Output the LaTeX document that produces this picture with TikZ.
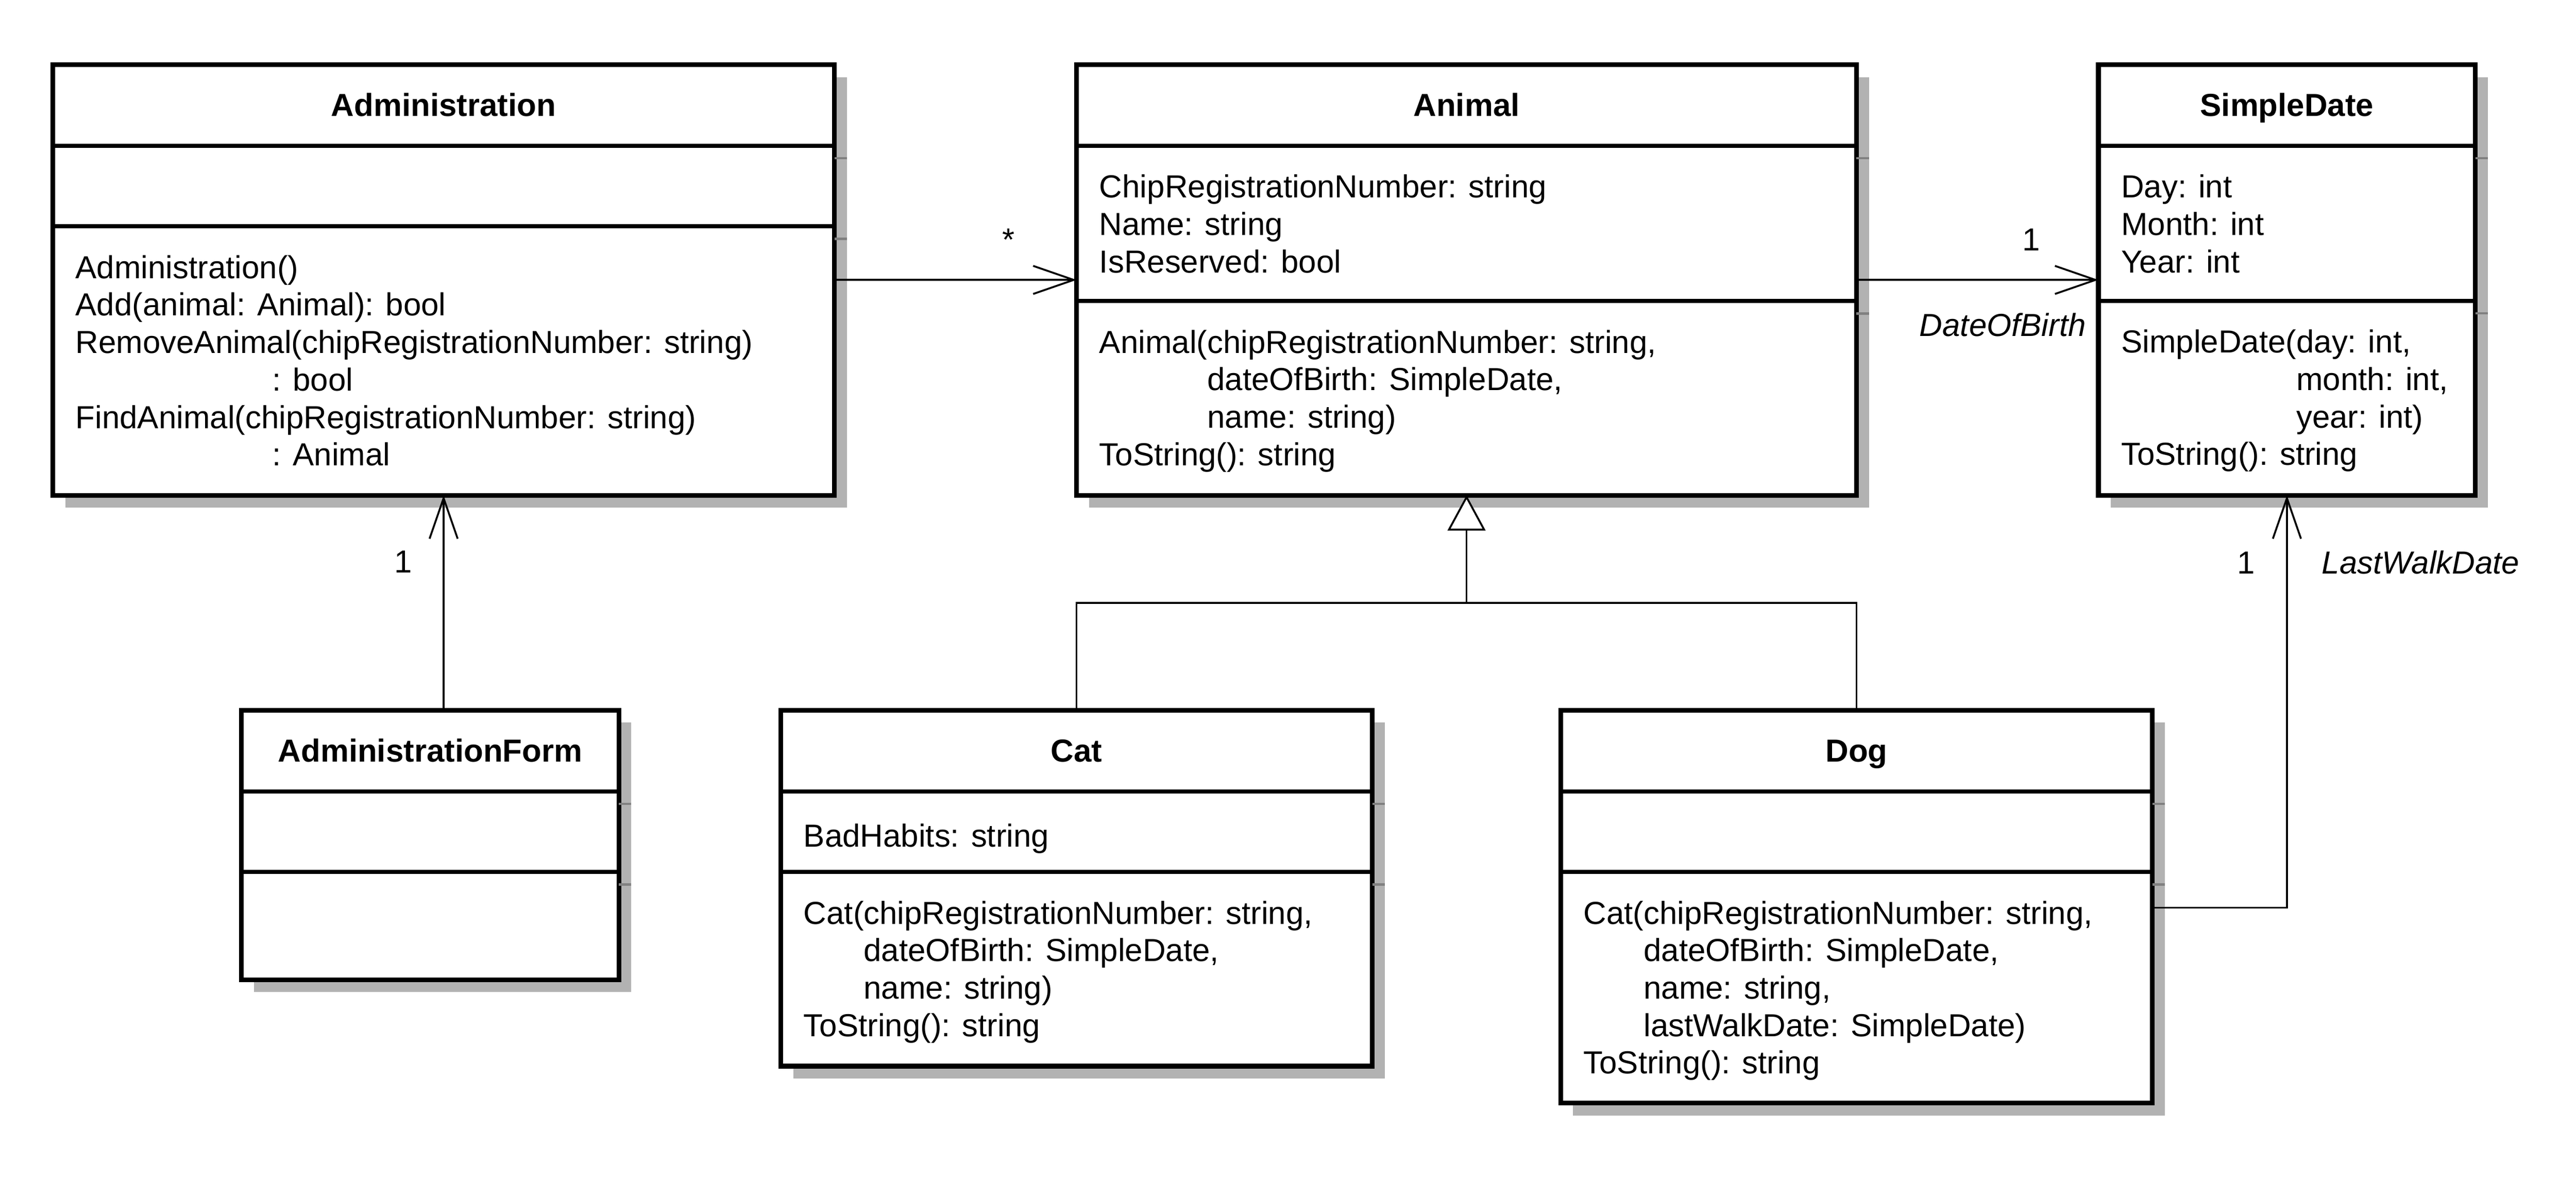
\documentclass[tikz,border=0pt]{standalone}
\usepackage{fontspec}
\setmainfont{Liberation Sans}
\usepackage{tikz}
\usetikzlibrary{positioning,shadows,arrows.meta}
\newcommand{\umlfont}{\fontsize{10.2}{12}\selectfont}
\tikzstyle{classbox} = [draw,line width=1.5pt,fill=white,outer sep=0pt,inner sep=0pt,
    drop shadow={shadow xshift=0.14cm,shadow yshift=-0.14cm,fill=black!30,opacity=1}
]
\tikzstyle{classname} = [anchor=base,inner sep=0pt,font=\umlfont\bfseries]
\tikzstyle{members} = [anchor=north west,inner sep=0pt,align=left,font=\umlfont,
    execute at begin node=\strut
]
\tikzstyle{divider} = [line width=1.3pt]
\tikzstyle{divshade} = [line width=0.7pt,black!50]
\tikzstyle{assoc} = [line width=0.6pt,-{Straight Barb[length=13pt,width=9pt]}]
\tikzstyle{inherit} = [line width=0.6pt]
\tikzstyle{mult} = [anchor=base,inner sep=0pt,font=\umlfont]
\tikzstyle{role} = [inner sep=0pt,font=\umlfont\itshape]
\newcommand{\classlines}[3]{
    \draw[divider] ([yshift=-#2]#1.north west) -- ([yshift=-#2]#1.north east);
    \draw[divider] ([yshift=-#3]#1.north west) -- ([yshift=-#3]#1.north east);
    \draw[divshade] ([yshift=-#2-0.14cm]#1.north east) -- ++(0.14cm,0);
    \draw[divshade] ([yshift=-#3-0.14cm]#1.north east) -- ++(0.14cm,0);
}
\begin{document}
\begin{tikzpicture}
    \useasboundingbox (0,0) rectangle (29,-13.27);

	\node(admin) at (0.594,-0.727) [classbox,anchor=north west,minimum width=8.8cm,minimum height=4.847cm] {};
	\node[classname] at ([yshift=-0.579cm]admin.north) {Administration};
	\classlines{admin}{0.9125cm}{1.821cm}
	\node[members] at ([xshift=0.25cm,yshift=-2.139cm]admin.north west) {Administration()\\
	    Add(animal: Animal): bool\\
	    RemoveAnimal(chipRegistrationNumber: string)\\
	    \hspace*{63pt}: bool\\
	    FindAnimal(chipRegistrationNumber: string)\\
	    \hspace*{63pt}: Animal};

	\node(animal) [classbox,right=2.726cm of admin,minimum width=8.78cm,minimum height=4.847cm] {};
	\node[classname] at ([yshift=-0.579cm]animal.north) {Animal};
	\classlines{animal}{0.9125cm}{2.662cm}
	\node[members] at ([xshift=0.25cm,yshift=-1.231cm]animal.north west) {ChipRegistrationNumber: string\\
	    Name: string\\
	    IsReserved: bool};
	\node[members] at ([xshift=0.25cm,yshift=-2.98cm]animal.north west) {Animal(chipRegistrationNumber: string,\\
	    \phantom{Animal(}dateOfBirth: SimpleDate,\\
	    \phantom{Animal(}name: string)\\
	    ToString(): string};

	\node(date) [classbox,right=2.723cm of animal,minimum width=4.245cm,minimum height=4.847cm] {};
	\node[classname] at ([yshift=-0.579cm]date.north) {SimpleDate};
	\classlines{date}{0.9125cm}{2.66cm}
	\node[members] at ([xshift=0.25cm,yshift=-1.231cm]date.north west) {Day: int\\
	    Month: int\\
	    Year: int};
	\node[members] at ([xshift=0.25cm,yshift=-2.978cm]date.north west) {SimpleDate(day: int,\\
	    \phantom{SimpleDate(}month: int,\\
	    \phantom{SimpleDate(}year: int)\\
	    ToString(): string};

	\node(form) [classbox,below=2.42cm of admin.south,xshift=-0.151cm,minimum width=4.248cm,minimum height=3.033cm] {};
	\node[classname] at ([yshift=-0.579cm]form.north) {AdministrationForm};
	\classlines{form}{0.9125cm}{1.821cm}

	\node(cat) [classbox,below=2.42cm of animal.south west,minimum width=6.66cm,minimum height=4.006cm] {};
	\node[classname] at ([yshift=-0.579cm]cat.north) {Cat};
	\classlines{cat}{0.916cm}{1.821cm}
	\node[members] at ([xshift=0.25cm,yshift=-1.234cm]cat.north west) {BadHabits: string};
	\node[members] at ([xshift=0.25cm,yshift=-2.139cm]cat.north west) {Cat(chipRegistrationNumber: string,\\
	    \phantom{Cat(}dateOfBirth: SimpleDate,\\
	    \phantom{Cat(}name: string)\\
	    ToString(): string};

	\node(dog) [classbox,below=2.42cm of animal.south east,minimum width=6.66cm,minimum height=4.423cm] {};
	\node[classname] at ([yshift=-0.579cm]dog.north) {Dog};
	\classlines{dog}{0.916cm}{1.821cm}
	\node[members] at ([xshift=0.25cm,yshift=-2.139cm]dog.north west) {Cat(chipRegistrationNumber: string,\\
	    \phantom{Cat(}dateOfBirth: SimpleDate,\\
	    \phantom{Cat(}name: string,\\
	    \phantom{Cat(}lastWalkDate: SimpleDate)\\
	    ToString(): string};

	% associations
	\draw[assoc] (admin.east) -- (animal.west);
	\node[mult] at ([xshift=-0.769cm,yshift=0.33cm]animal.west) {*};
	\draw[assoc] (animal.east) -- (date.west);
	\node[mult] at ([xshift=-0.754cm,yshift=0.33cm]date.west) {1};
	\node[role,anchor=base east] at ([xshift=-0.133cm,yshift=-0.632cm]date.west) {DateOfBirth};
	\draw[assoc] (form.north -| admin.south) -- (admin.south);
	\node[mult] at ([xshift=-0.454cm,yshift=-0.875cm]admin.south) {1};
	\draw[assoc] ([yshift=-2.222cm]dog.north east) -| (date.south);
	\node[mult] at ([xshift=-0.462cm,yshift=-0.882cm]date.south) {1};
	\node[role,anchor=base west] at ([xshift=0.386cm,yshift=-0.882cm]date.south) {LastWalkDate};

	% generalization
	\coordinate (split) at ([yshift=-1.212cm]animal.south);
	\draw[inherit] (cat.north) |- (split) -| (dog.north);
	\draw[inherit,-{Triangle[fill=white,length=11.3pt,width=12.1pt]}] (split) -- (animal.south);
\end{tikzpicture}
\end{document}
